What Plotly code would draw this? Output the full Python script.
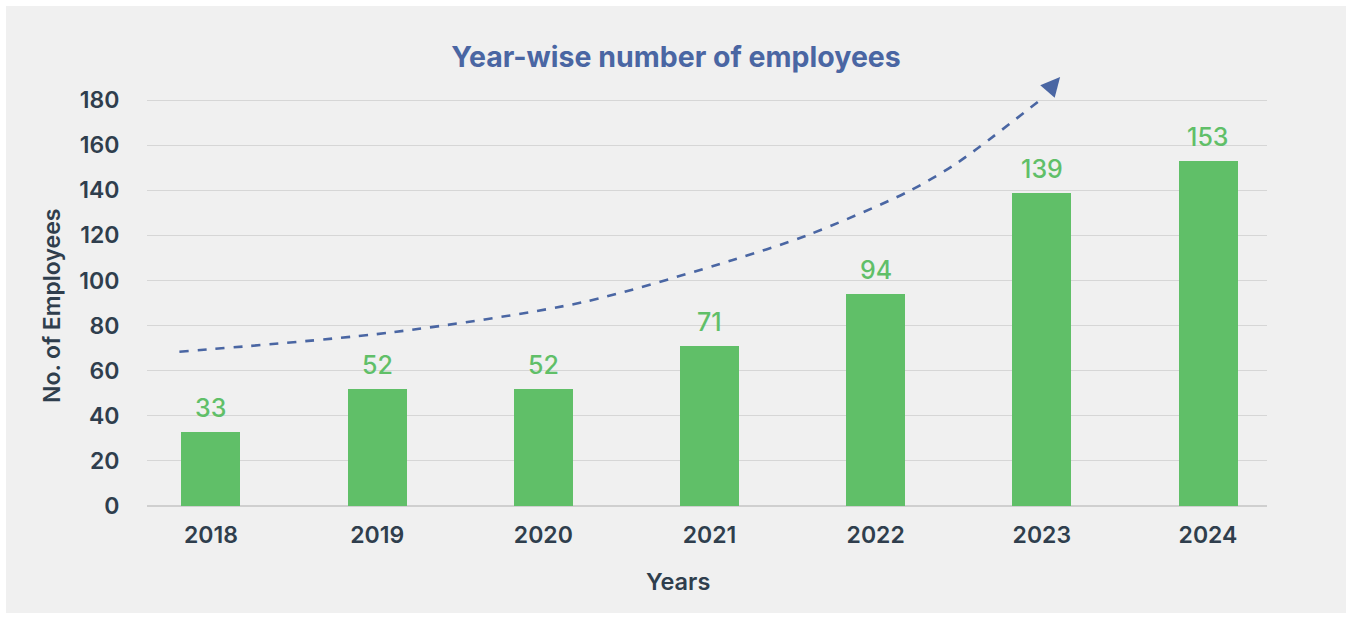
import plotly.graph_objects as go

years = ["2018", "2019", "2020", "2021", "2022", "2023", "2024"]
employees = [33, 52, 52, 71, 94, 139, 153]
y_ticks = [0, 20, 40, 60, 80, 100, 120, 140, 160, 180]

# decorative growth-trend arrow (category-index x, value y)
trend_x = [-0.19, 1.10, 2.24, 3.14, 3.59, 4.19, 4.49, 4.99]
trend_y = [68.4, 77.1, 90.4, 109.1, 120.1, 139.2, 152.1, 180.0]
arrow_tip = (5.11, 190.2)

W, H = 1352, 619
L, R, T, B = 147, 85, 73, 113

bar_color = "#60bf68"
blue = "#4a66a3"
dark = "#2f3e4d"
font_family = "Inter, Roboto, Arial, sans-serif"

xs = list(range(len(years)))

fig = go.Figure()
fig.add_trace(go.Bar(
    x=xs, y=employees, width=0.355, marker=dict(color=bar_color, line=dict(width=0)),
    hoverinfo="skip", showlegend=False,
))
fig.add_trace(go.Scatter(
    x=trend_x, y=trend_y, mode="lines",
    line=dict(color=blue, width=2.6, dash="9px,9px", shape="spline", smoothing=0.8),
    hoverinfo="skip", showlegend=False,
))

annotations = []
for xi, v in zip(xs, employees):
    annotations.append(dict(
        x=xi, y=v, xref="x", yref="y", text=str(v), showarrow=False,
        yanchor="bottom", yshift=7,
        font=dict(family=font_family, size=25, color=bar_color, weight=500),
    ))
# arrow head
annotations.append(dict(
    x=arrow_tip[0], y=arrow_tip[1], ax=trend_x[-1] + 0.07, ay=trend_y[-1] + 6.0,
    xref="x", yref="y", axref="x", ayref="y", text="", showarrow=True,
    arrowhead=2, arrowsize=1.6, arrowwidth=2.4, arrowcolor=blue,
))
annotations.append(dict(
    x=(678 - L) / (W - L - R), y=(H - B - 581) / (H - T - B), xref="paper", yref="paper",
    text="Years", showarrow=False, xanchor="center", yanchor="middle",
    font=dict(family=font_family, size=23.5, color=dark, weight=600),
))
annotations.append(dict(
    x=(52 - L) / (W - L - R), y=(H - B - 306) / (H - T - B), xref="paper", yref="paper",
    text="No. of Employees", showarrow=False, textangle=-90, xanchor="center", yanchor="middle",
    font=dict(family=font_family, size=23, color=dark, weight=600),
))

pw, ph = W - L - R, H - T - B
shapes = [dict(
    type="rect", xref="paper", yref="paper", layer="below",
    x0=(6 - L) / pw, x1=(1346 - L) / pw, y0=(H - B - 613) / ph, y1=(H - B - 6) / ph,
    fillcolor="#f0f0f0", line=dict(width=0),
)]

fig.update_layout(
    width=W, height=H,
    margin=dict(l=L, r=R, t=T, b=B, pad=0),
    paper_bgcolor="white", plot_bgcolor="rgba(0,0,0,0)",
    title=dict(
        text="Year-wise number of employees", x=0.5, xref="container", xanchor="center",
        y=1 - 57 / H, yref="container", yanchor="middle",
        font=dict(family=font_family, size=28.5, color=blue, weight=700),
    ),
    xaxis=dict(
        range=[-0.385, 6.355], tickvals=xs, ticktext=years,
        showgrid=False, zeroline=False, showline=False,
        ticks="outside", ticklen=8, tickcolor="rgba(0,0,0,0)",
        tickfont=dict(family=font_family, size=23, color=dark, weight=600),
    ),
    yaxis=dict(
        range=[0, 192], tickvals=y_ticks, showgrid=True, gridcolor="#d6d6d6", gridwidth=1,
        zeroline=True, zerolinecolor="#cfcfcf", zerolinewidth=2, showline=False,
        ticks="outside", ticklen=22, tickcolor="rgba(0,0,0,0)",
        tickfont=dict(family=font_family, size=23, color=dark, weight=600),
    ),
    shapes=shapes, annotations=annotations, bargap=0,
)

fig.write_html("out.html")
